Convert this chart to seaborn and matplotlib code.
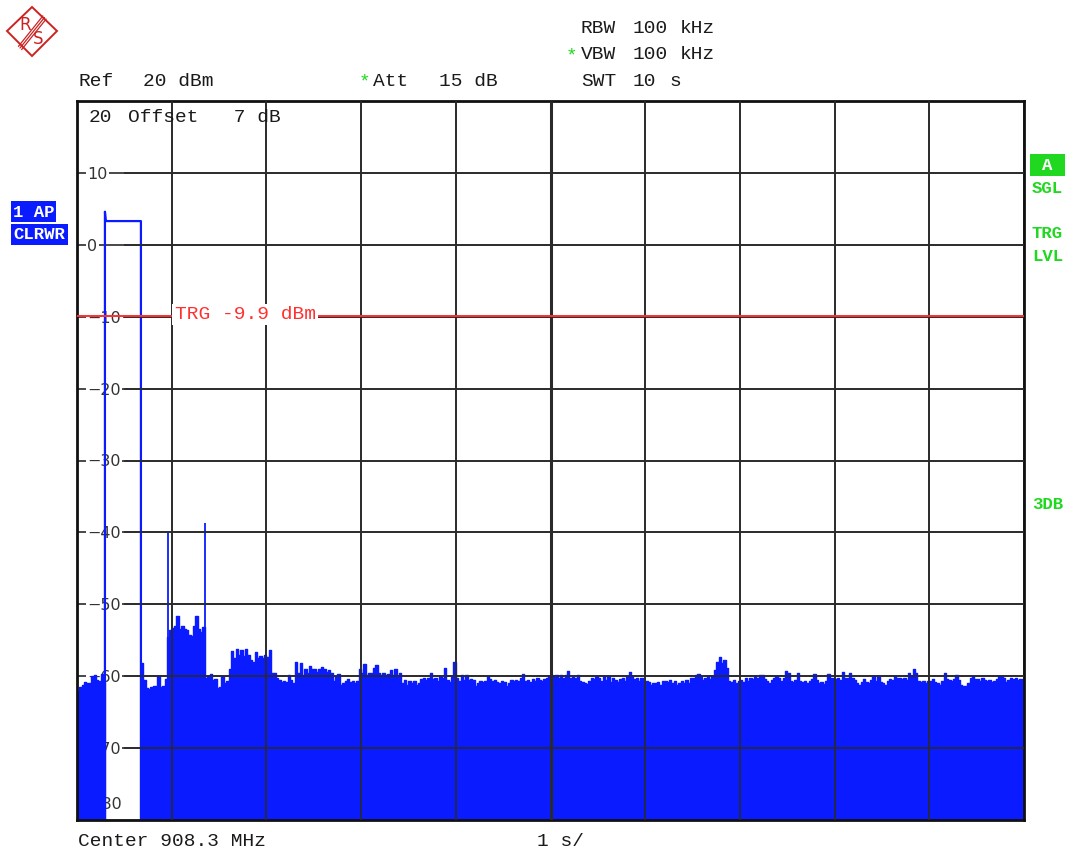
import numpy as np
import matplotlib
matplotlib.use("Agg")
import matplotlib.pyplot as plt
import seaborn as sns
from matplotlib.patches import Polygon, Rectangle

# ---------------- data ----------------
y_ticks = [10, 0, -10, -20, -30, -40, -50, -60, -70]
y_tick_labels = ["10", "0", "\u221210", "\u221220", "\u221230", "\u221240", "\u221250", "\u221260", "\u221270"]
x_divs = [0, 1, 2, 3, 4, 5, 6, 7, 8, 9, 10]
sweep_step = 0.025  # seconds per trace sample (zero span, 10 s sweep)

# upper envelope of the noise trace (dBm), 20 samples per row = 0.5 s
noise_rows = [
    [-62.0, -61.5, -61.2, -60.8, -61.0, -60.9, -60.0, -59.8, -60.5, -60.7, -59.7, -60.8, -80, -80, -80, -80, -80, -80, -80, -80],
    [-80, -80, -80, -80, -80, -80, -80, -58.2, -60.5, -61.7, -61.8, -61.5, -61.4, -61.4, -60.0, -61.5, -61.4, -60.4, -54.5, -53.6],
    [-53.3, -53.0, -51.6, -53.5, -53.0, -53.4, -53.6, -54.3, -54.4, -53.0, -51.6, -53.5, -53.8, -53.2, -60.2, -60.0, -59.7, -60.5, -60.4, -61.7],
    [-61.5, -60.0, -61.0, -60.7, -59.0, -56.5, -57.5, -56.2, -57.0, -56.3, -57.2, -56.2, -57.0, -57.8, -58.0, -56.6, -57.5, -57.2, -57.4, -57.0],
    [-57.3, -56.4, -59.5, -59.6, -60.3, -60.5, -60.8, -60.6, -60.8, -59.9, -60.5, -61.0, -58.0, -59.5, -58.1, -59.8, -59.0, -59.5, -58.6, -59.0],
    [-59.0, -59.4, -59.0, -58.7, -59.0, -59.4, -59.2, -59.6, -60.6, -60.0, -59.7, -61.2, -61.0, -60.7, -60.4, -60.8, -60.6, -61.0, -60.7, -59.0],
    [-59.5, -58.3, -59.8, -59.5, -59.6, -58.9, -58.4, -59.6, -59.8, -59.5, -59.9, -59.7, -59.2, -59.8, -59.0, -60.0, -59.6, -61.0, -60.5, -61.2],
    [-60.6, -61.0, -60.6, -61.2, -61.0, -60.4, -60.2, -60.5, -60.3, -59.5, -60.4, -60.2, -60.6, -60.0, -60.2, -58.8, -60.5, -60.8, -60.1, -58.0],
    [-60.3, -60.6, -59.8, -60.5, -59.9, -60.5, -60.4, -60.5, -61.4, -61.0, -60.6, -60.8, -60.7, -60.0, -60.4, -60.6, -60.5, -60.8, -61.0, -60.6],
    [-60.8, -61.3, -60.9, -60.5, -60.6, -60.5, -60.6, -60.2, -59.7, -60.6, -60.5, -60.8, -60.4, -60.7, -60.2, -60.5, -60.7, -60.4, -60.3, -60.0],
    [-59.9, -60.0, -59.8, -60.3, -59.9, -60.2, -59.9, -59.3, -60.3, -60.1, -60.2, -59.8, -60.6, -60.8, -61.0, -61.1, -60.6, -60.2, -60.4, -60.0],
    [-60.2, -60.6, -60.0, -60.5, -60.0, -60.8, -60.2, -60.5, -60.8, -60.4, -60.3, -60.6, -60.0, -59.4, -60.0, -60.4, -60.2, -60.6, -60.2, -60.8],
    [-60.6, -60.8, -61.2, -60.9, -61.0, -60.8, -61.2, -60.7, -60.6, -60.8, -60.5, -61.0, -60.7, -61.2, -60.9, -60.6, -60.9, -60.5, -61.0, -60.3],
    [-60.2, -59.9, -59.7, -60.1, -60.5, -60.2, -60.0, -60.4, -60.0, -59.2, -58.0, -57.3, -58.2, -57.8, -58.8, -60.6, -60.8, -60.5, -60.9, -60.6],
    [-60.5, -60.8, -60.3, -60.6, -60.2, -60.4, -60.0, -60.2, -59.9, -59.8, -60.4, -60.6, -61.0, -60.5, -60.3, -60.0, -60.3, -60.6, -60.2, -59.3],
    [-59.6, -60.6, -60.8, -60.5, -59.5, -60.7, -60.8, -60.6, -60.9, -60.6, -60.4, -59.7, -60.5, -61.0, -60.8, -61.1, -60.6, -59.7, -60.2, -60.3],
    [-60.4, -60.3, -60.5, -59.4, -60.2, -60.3, -59.5, -60.2, -60.5, -61.0, -61.2, -60.8, -60.4, -60.8, -61.0, -60.5, -60.0, -60.6, -60.1, -60.8],
    [-61.0, -61.2, -60.6, -60.4, -60.5, -60.0, -60.3, -60.2, -60.4, -60.3, -60.5, -59.5, -60.0, -59.0, -59.6, -60.6, -60.8, -60.6, -61.0, -60.7],
    [-60.6, -60.4, -60.8, -61.0, -61.2, -60.7, -59.6, -60.4, -60.5, -60.6, -60.4, -59.8, -60.5, -61.2, -61.4, -61.3, -61.0, -60.2, -60.0, -60.4],
    [-60.4, -60.6, -60.3, -60.5, -60.7, -60.5, -60.8, -60.6, -60.4, -60.0, -60.0, -60.3, -60.8, -60.5, -60.3, -60.4, -60.3, -60.5, -60.4, -60.6],
]

# burst (the transmitted signal)
signal_t = [0.295, 0.295, 0.305, 0.675, 0.675]
signal_db = [-80.0, 4.6, 3.3, 3.3, -80.0]
# narrow spikes
spike_t = [0.96, 1.35]
spike_db = [-40.1, -38.7]
trg_level = -9.9

# ---------------- style ----------------
sns.set_style("white")
MONO = "Liberation Mono"
BLUE = "#0a1cff"
GREEN = "#1fd81f"
RED = "#ff3030"
GRID = "#2a2a2a"
TXT = "#1a1a1a"
plt.rcParams["font.family"] = ["DejaVu Sans"]

W, H = 1065, 849
fig = plt.figure(figsize=(W / 100, H / 100), dpi=100)
fig.patch.set_facecolor("white")

def fx(px):
    return px / W

def fy(py):
    return 1 - py / H

L, R, T, B = 77, 1024, 101, 820
ax = fig.add_axes([fx(L), fy(B), (R - L) / W, (B - T) / H])
ax.set_xlim(0, 10)
ax.set_ylim(-80, 20)
ax.set_axisbelow(True)

# grid (base layer, under labels)
ax.set_xticks(x_divs)
ax.set_xticklabels([])
ax.set_yticks(y_ticks)
ax.set_yticklabels(y_tick_labels)
ax.grid(True, color=GRID, lw=1.2)
ax.tick_params(axis="x", length=0)
ax.tick_params(axis="y", direction="in", length=0, pad=-7.5, labelsize=11.5, labelcolor="#333333")
for lab in ax.get_yticklabels():
    lab.set_horizontalalignment("left")
    lab.set_bbox(dict(facecolor="white", edgecolor="none", pad=1.0))
ax.text(0.116, -77.9, "\u221280", fontsize=11.5, color="#333333", va="center", ha="left", zorder=0.8,
        bbox=dict(facecolor="white", edgecolor="none", pad=1.0))

# noise trace
noise = np.concatenate([np.array(r, dtype=float) for r in noise_rows])
t = np.arange(len(noise)) * sweep_step
t_edges = np.append(t, 10.0)
noise_edges = np.append(noise, noise[-1])
ax.fill_between(t_edges, -80, noise_edges, step="post", color=BLUE, lw=0, zorder=1.5)
sns.lineplot(x=t_edges, y=noise_edges, drawstyle="steps-post", estimator=None, sort=False,
             color=BLUE, lw=1.0, ax=ax, zorder=1.6)
# burst
sns.lineplot(x=signal_t, y=signal_db, estimator=None, sort=False, color=BLUE, lw=1.6, ax=ax, zorder=2)
ax.vlines(spike_t, -80, spike_db, color=BLUE, lw=1.3, zorder=2)

# grid overlay on top of trace
ax.vlines([d for d in x_divs[1:-1] if d != 5], -80, 20, color=GRID, lw=1.2, zorder=2.6)
ax.vlines([5], -80, 20, color=GRID, lw=2.2, zorder=2.6)
ax.hlines(y_ticks, 0.5, 10, color=GRID, lw=1.2, zorder=2.6)

# trigger level
ax.axhline(trg_level, color=RED, lw=1.4, zorder=3)
ax.text(1.03, trg_level + 0.2, "TRG -9.9 dBm", family=MONO, fontsize=14, color=RED, va="center",
        ha="left", zorder=3.5, bbox=dict(facecolor="white", edgecolor="none", pad=1.5))

for s in ax.spines.values():
    s.set_visible(True)
    s.set_color("#111111")
    s.set_linewidth(2.0)
ax.set_xlabel("")
ax.set_ylabel("")

# ---------------- header / footer text ----------------
def ftext(px, pybase, s, color=TXT, size=14, weight="normal", ha="left"):
    fig.text(fx(px), fy(pybase), s, family=MONO, fontsize=size, color=color, weight=weight,
             va="baseline", ha=ha)

ftext(581, 33, "RBW")
ftext(633, 33, "100")
ftext(680, 33, "kHz")
ftext(566, 60, "*", color=GREEN)
ftext(581, 59, "VBW")
ftext(633, 59, "100")
ftext(680, 59, "kHz")
ftext(78, 86, "Ref")
ftext(143, 86, "20 dBm")
ftext(359, 86, "*", color=GREEN)
ftext(373, 86, "Att")
ftext(439, 86, "15 dB")
ftext(581, 86, "SWT")
ftext(633, 86, "10")
ftext(669, 86, "s")
ftext(89, 122, "20")
ftext(128, 122, "Offset   7 dB")
ftext(78, 846, "Center 908.3 MHz")
ftext(537, 846, "1 s/")

# left trace labels
fig.patches.append(Rectangle((fx(11), fy(222)), 45 / W, 21 / H, transform=fig.transFigure,
                             facecolor=BLUE, edgecolor="none"))
fig.patches.append(Rectangle((fx(11), fy(245)), 57 / W, 21 / H, transform=fig.transFigure,
                             facecolor=BLUE, edgecolor="none"))
ftext(13, 217, "1 AP", color="white", size=12.5, weight="bold")
ftext(13, 239, "CLRWR", color="white", size=12.5, weight="bold")

# right status labels
fig.patches.append(Rectangle((fx(1030), fy(176)), 35 / W, 22 / H, transform=fig.transFigure,
                             facecolor=GREEN, edgecolor="none"))
ftext(1047, 170, "A", color="white", size=12.5, weight="bold", ha="center")
ftext(1032, 193, "SGL", color=GREEN, size=12.5, weight="bold")
ftext(1032, 238, "TRG", color=GREEN, size=12.5, weight="bold")
ftext(1032, 261, "LVL", color=GREEN, size=12.5, weight="bold")
ftext(1032, 509, "3DB", color=GREEN, size=12.5, weight="bold")

# ---------------- R&S logo ----------------
lax = fig.add_axes([0, fy(64), 64 / W, 64 / H])
lax.set_xlim(0, 64)
lax.set_ylim(64, 0)
lax.axis("off")
LOGO = "#cc2222"
lax.add_patch(Polygon([(32, 7), (57, 31), (32, 56), (7, 31)], closed=True, fill=False,
                      edgecolor=LOGO, lw=1.4))
for off in (-1.6, 0, 1.6):
    lax.plot([44.5 + off, 20.0 + off], [17.5 + off, 48.0 + off], color=LOGO, lw=0.9)
lax.text(25.5, 24.5, "R", color=LOGO, fontsize=12, ha="center", va="center")
lax.text(38.5, 39.0, "S", color=LOGO, fontsize=12, ha="center", va="center")

fig.savefig("out.png", dpi=100, facecolor="white")
